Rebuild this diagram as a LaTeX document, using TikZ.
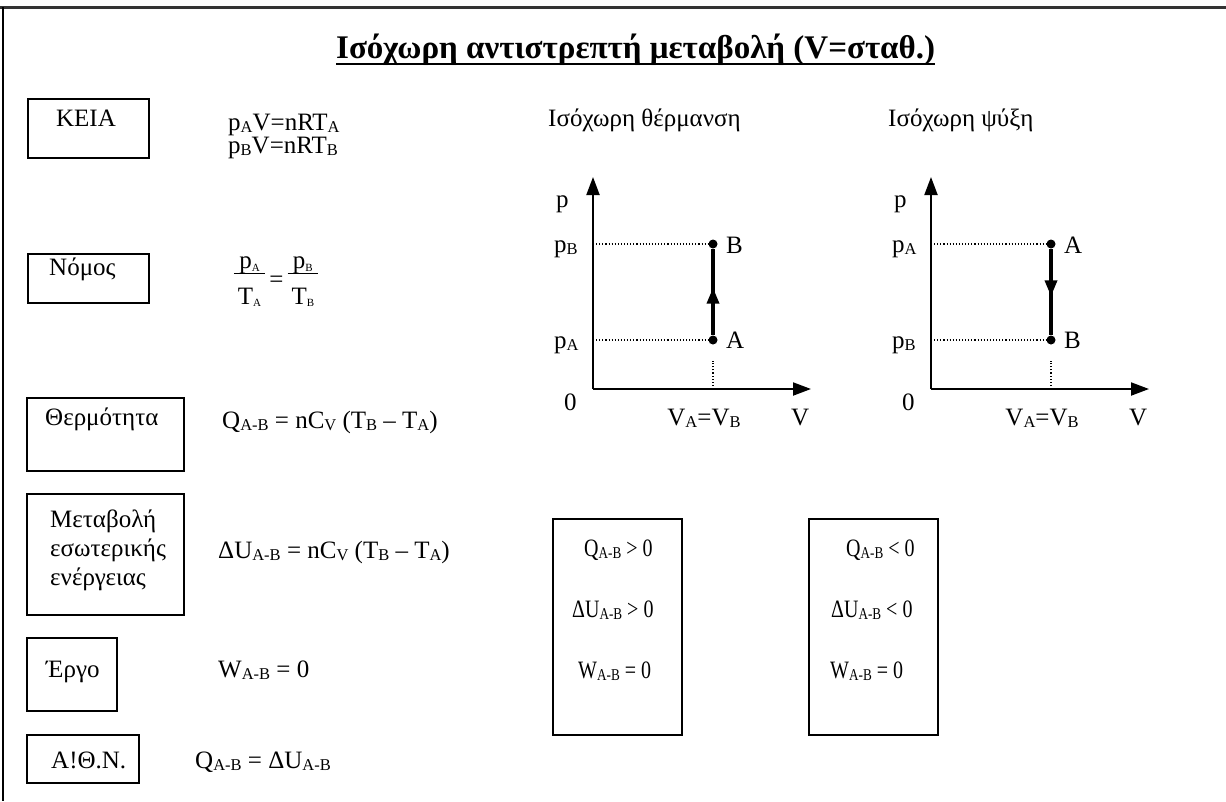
\documentclass[tikz,border=0pt]{standalone}
\usepackage{amsmath}
\usepackage{fontspec}
\setmainfont{Liberation Serif}
\newfontfamily\resfont[FakeStretch=0.8]{Liberation Serif}
\usepackage{tikz}
\usetikzlibrary{arrows.meta, positioning, decorations.markings}

\newcommand{\ix}[1]{\raisebox{-0.25ex}{\fontsize{16.5}{16.5}\selectfont #1}}
\newcommand{\tix}[1]{\raisebox{-0.2ex}{\fontsize{11}{11}\selectfont #1}}
\newcommand{\vfrac}[2]{\begin{tabular}[c]{@{\hspace{4pt}}c@{\hspace{4pt}}}#1\\[-4pt]\hline\rule{0pt}{30pt}#2\end{tabular}}
\setlength{\arrayrulewidth}{1.3pt}

\begin{document}
\begin{tikzpicture}[x=1pt, y=-1pt,
    box/.style={rectangle, draw, line width=1.8pt, inner sep=0pt},
    txt/.style={inner sep=0pt, anchor=base west, font=\fontsize{25}{29}\selectfont},
    res/.style={txt, font=\resfont\fontsize{25}{29}\selectfont},
    axis/.style={line width=2pt, -{Triangle[length=18pt, width=13pt]}},
    guide/.style={dotted, line width=1.1pt},
    dot/.style={circle, fill, inner sep=0pt, minimum size=9pt},
    proc/.style={line width=3.5pt, postaction={decorate}, decoration={markings,
                 mark=at position 0.55 with {\arrow{Triangle[length=16pt, width=12pt]}}}}
]
\useasboundingbox (0,0) rectangle (1226,801);
% frame
\draw[line width=3pt, black!80] (0,7) -- (1226,7);
\draw[line width=2pt] (3,7) -- (3,801);

% title
\node[txt, font=\bfseries\fontsize{33}{36}\selectfont] (ttl) at (336,58)
    {Ισόχωρη αντιστρεπτή μεταβολή (V=σταθ.)};
\draw[line width=2pt] ([yshift=-6pt]ttl.base west) -- ([yshift=-6pt]ttl.base east);

% left column: boxes
\node[box, minimum width=121, minimum height=59, anchor=north west] (keiabox) at (27,98) {};
\node[txt, anchor=base] (keia) at (86,126) {ΚΕΙΑ};
\node[box, minimum width=121, minimum height=49, anchor=north west] (lawbox) at (27,253) {};
\node[txt] (nomos) at (49,275) {Νόμος};
\node[box, minimum width=157, minimum height=73, anchor=north west] (qbox) at (26,397) {};
\node[txt] (therm) at (45,425) {Θερμότητα};
\node[box, minimum width=157, minimum height=121, anchor=north west] (ubox) at (26,493) {};
\node[txt, anchor=base west, align=left] (metab) at (50,585)
    {Μεταβολή\\εσωτερικής\\ενέργειας};
\node[box, minimum width=90, minimum height=73, anchor=north west] (wbox) at (26,637) {};
\node[txt] (ergo) at (46,677) {Έργο};
\node[box, minimum width=112, minimum height=48, anchor=north west] (abox) at (26,734) {};
\node[txt] (aton) at (51,768) {Α!Θ.Ν.};

% formulas
\node[txt] (eqa) at (228,130) {p\ix{A}V=nRT\ix{A}};
\node[txt] (eqb) at (228,153) {p\ix{B}V=nRT\ix{B}};
\node[inner sep=0pt, font=\fontsize{25}{28}\selectfont] (law) at (276,281)
    {\vfrac{p\tix{A}}{T\tix{A}}\,=\,\vfrac{p\tix{B}}{T\tix{B}}};
\node[txt] (eqq) at (222,428) {Q\ix{A-B} = nC\ix{V} (T\ix{B} – T\ix{A})};
\node[txt] (equ) at (218,558) {ΔU\ix{A-B} = nC\ix{V} (T\ix{B} – T\ix{A})};
\node[txt] (eqw) at (218,677) {W\ix{A-B} = 0};
\node[txt] (eqf) at (195,768) {Q\ix{A-B} = ΔU\ix{A-B}};

% heating
\node[txt] (heat) at (548,126) {Ισόχωρη θέρμανση};
\coordinate (o1) at (593,389);
\coordinate (py1) at (593,177);
\coordinate (vx1) at (811,389);
\coordinate (v1) at (713,389);
\node[dot] (a1) at (713,340) {};
\node[dot] (b1) at (713,244) {};
\draw[axis] (o1) -- (py1);
\draw[axis] (o1) -- (vx1);
\draw[guide] (o1 |- a1) -- (a1);
\draw[guide] (o1 |- b1) -- (b1);
\draw[guide] (v1) -- ([yshift=28pt]v1);
\draw[proc] (a1) -- (b1);
\node[txt] (p1) at (556,207) {p};
\node[txt] (pb1) at (554,252) {p\ix{B}};
\node[txt] (pa1) at (554,348) {p\ix{A}};
\node[txt] (lb1) at (726,253) {B};
\node[txt] (la1) at (726,348) {A};
\node[txt] (z1) at (564,410) {0};
\node[txt, anchor=base] (vv1) at (704,425) {V\ix{A}=V\ix{B}};
\node[txt] (vl1) at (791,425) {V};

% cooling
\node[txt] (cool) at (888,126) {Ισόχωρη ψύξη};
\coordinate (o2) at (931,389);
\coordinate (py2) at (931,177);
\coordinate (vx2) at (1149,389);
\coordinate (v2) at (1051,389);
\node[dot] (a2) at (1051,244) {};
\node[dot] (b2) at (1051,340) {};
\draw[axis] (o2) -- (py2);
\draw[axis] (o2) -- (vx2);
\draw[guide] (o2 |- a2) -- (a2);
\draw[guide] (o2 |- b2) -- (b2);
\draw[guide] (v2) -- ([yshift=28pt]v2);
\draw[proc] (a2) -- (b2);
\node[txt] (p2) at (894,207) {p};
\node[txt] (pa2) at (892,252) {p\ix{A}};
\node[txt] (pb2) at (892,348) {p\ix{B}};
\node[txt] (la2) at (1064,253) {A};
\node[txt] (lb2) at (1064,348) {B};
\node[txt] (z2) at (902,410) {0};
\node[txt, anchor=base] (vv2) at (1042,425) {V\ix{A}=V\ix{B}};
\node[txt] (vl2) at (1129,425) {V};

% results
\node[box, minimum width=129, minimum height=216, anchor=north west] (hbox) at (552,518) {};
\node[res] (hq) at (584,556) {Q\ix{A-B} > 0};
\node[res] (hu) at (572,617) {ΔU\ix{A-B} > 0};
\node[res] (hw) at (578,678) {W\ix{A-B} = 0};
\node[box, minimum width=129, minimum height=216, anchor=north west] (cbox) at (808,518) {};
\node[res] (cq) at (846,556) {Q\ix{A-B} < 0};
\node[res] (cu) at (831,617) {ΔU\ix{A-B} < 0};
\node[res] (cw) at (830,678) {W\ix{A-B} = 0};
\end{tikzpicture}
\end{document}
